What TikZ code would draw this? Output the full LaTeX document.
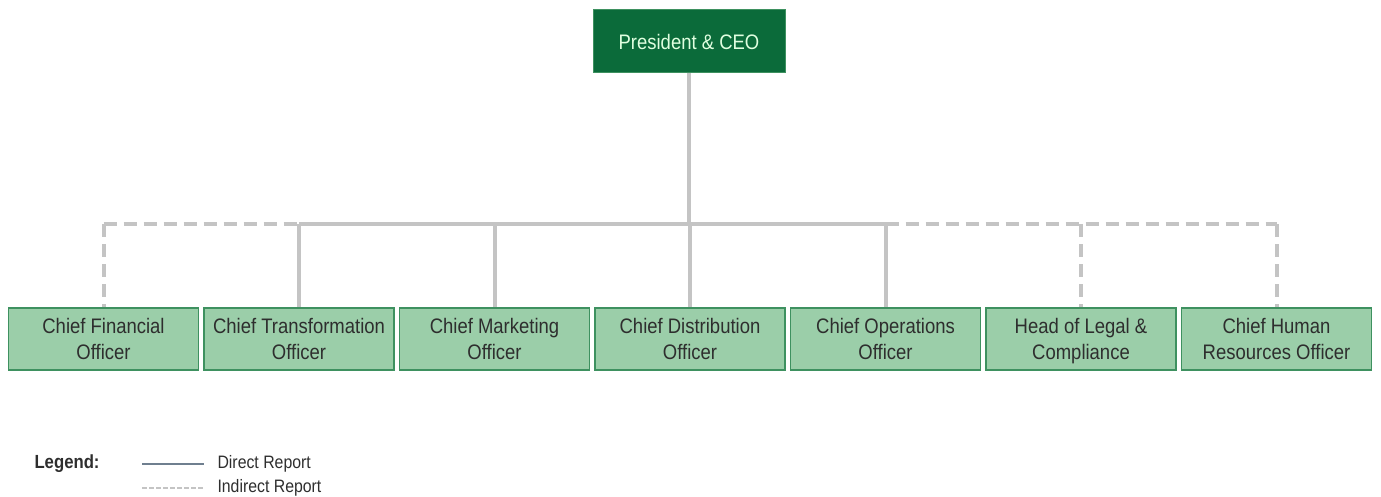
\documentclass[tikz,border=0pt]{standalone}
\usepackage{fontspec}
\setmainfont{Liberation Sans}[FakeStretch=0.88]
\usepackage{tikz}
\usetikzlibrary{positioning}

\definecolor{ceogreen}{HTML}{0B6B3A}
\definecolor{boxfill}{HTML}{9BCEA9}
\definecolor{boxline}{HTML}{3E9160}
\definecolor{linkgray}{HTML}{C4C4C4}
\definecolor{textgray}{HTML}{2E2E2E}
\definecolor{legendblue}{HTML}{6F7F8F}

\begin{document}
\begin{tikzpicture}[
  x=1pt, y=-1pt,
  node distance=4pt,
  every node/.style={font=\fontsize{21}{26}\selectfont},
  ceo/.style={rectangle, draw=boxline, fill=ceogreen, text=white!88!green, line width=1pt, minimum width=192pt, minimum height=63pt, inner sep=2pt},
  chief/.style={rectangle, draw=boxline, fill=boxfill, text=textgray, line width=1.5pt, align=center, minimum width=190pt, minimum height=62pt, inner sep=2pt},
  direct/.style={draw=linkgray, line width=4pt},
  indirect/.style={direct, dash pattern=on 13pt off 7pt},
  legtext/.style={anchor=west, text=textgray, font=\fontsize{18}{20}\selectfont}
]
\useasboundingbox (0,0) rectangle (1381,497);

\node[ceo] (ceo) at (689,41.5) {President \& CEO};

\node[chief] (cfo) at (103.5,339) {Chief Financial\\Officer};
\node[chief, right=of cfo] (cto) {Chief Transformation\\Officer};
\node[chief, right=of cto] (cmo) {Chief Marketing\\Officer};
\node[chief, right=of cmo] (cdo) {Chief Distribution\\Officer};
\node[chief, right=of cdo] (coo) {Chief Operations\\Officer};
\node[chief, right=of coo] (legal) {Head of Legal \&\\\raisebox{0pt}[\height][0pt]{Compliance}};
\node[chief, right=of legal] (chro) {Chief Human\\Resources Officer};

% reporting bar
\coordinate (bar) at (0,224);

\draw[direct] (ceo.south) -- (ceo.south |- bar);
\draw[direct] (cto.north |- bar) -- (coo.north |- bar);
\draw[indirect] (cfo.north |- bar) -- (cto.north |- bar);
\draw[indirect] (coo.north |- bar) -- (chro.north |- bar);

\draw[direct] (cto.north |- bar) -- (cto.north);
\draw[direct] (cmo.north |- bar) -- (cmo.north);
\draw[direct] (cdo.north |- bar) -- (cdo.north);
\draw[direct] (coo.north |- bar) -- (coo.north);
\draw[indirect] (cfo.north |- bar) -- (cfo.north);
\draw[indirect] (legal.north |- bar) -- (legal.north);
\draw[indirect] (chro.north |- bar) -- (chro.north);

% legend
\node[anchor=west, text=textgray, font=\fontsize{19}{20}\selectfont\bfseries] (legend) at (31,464) {Legend:};
\coordinate (d1) at (142,464);
\coordinate (d2) at (204,464);
\coordinate (i1) at (142,488);
\coordinate (i2) at (204,488);
\draw[legendblue, line width=1.2pt] (d1) -- (d2);
\draw[linkgray, line width=2pt, dash pattern=on 5pt off 2pt] (i1) -- (i2);
\node[legtext] (direct) at (214,464) {Direct Report};
\node[legtext] (indirect) at (214,488) {Indirect Report};
\end{tikzpicture}
\end{document}
